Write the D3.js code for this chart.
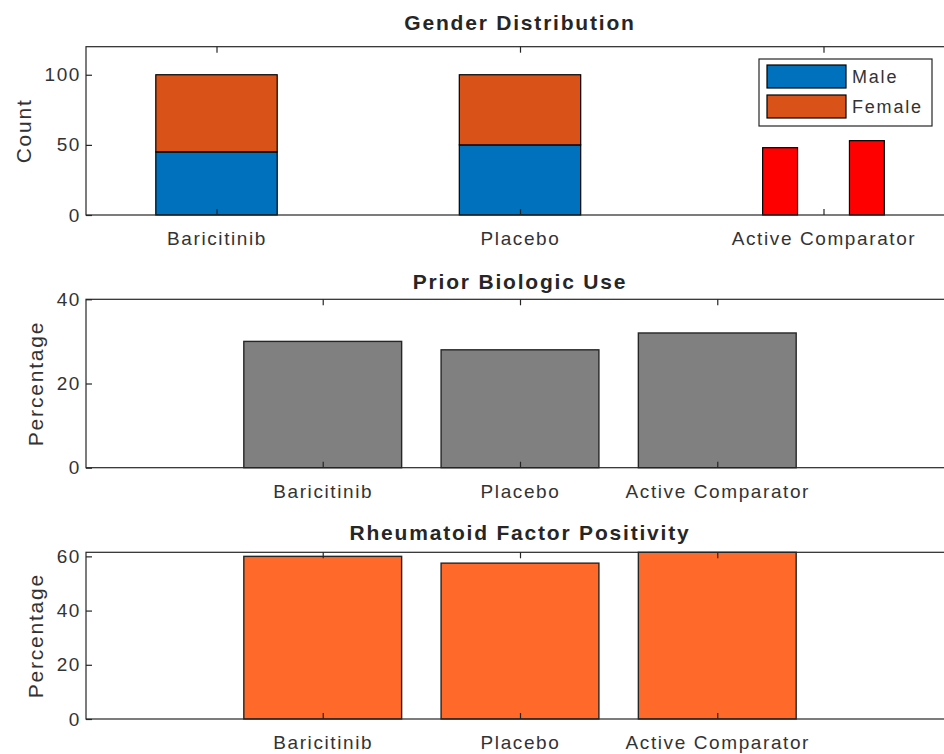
<!DOCTYPE html>
<html>
<head>
<meta charset="utf-8">
<script src="https://d3js.org/d3.v7.min.js"></script>
<style>
  body { margin: 0; background: #fff; }
  text { font-family: "Liberation Sans", Arial, sans-serif; fill: #262626; }
  .tick text { font-size: 19px; letter-spacing: 1.6px; fill: #333; }
  .tick line { stroke: #262626; stroke-width: 1.2; }
  .title { font-size: 21px; font-weight: bold; letter-spacing: 1.8px; }
  .ylabel { font-size: 21px; letter-spacing: 1.8px; fill: #333; }
  .legend text { font-size: 18px; letter-spacing: 1.8px; fill: #333; }
</style>
</head>
<body>
<script>
// data
const categories = ["Baricitinib", "Placebo", "Active Comparator"];
const genderKeys = ["Male", "Female"];
const maleCounts = [45, 50];           // Baricitinib, Placebo
const femaleCounts = [55, 50];
const comparatorCounts = [48, 53];     // the two red bars at Active Comparator
const priorBiologic = [30, 28, 32];
const rfPositive = [60, 57.5, 61.5];

const genderColors = ["#0072BD", "#D95319"];

const svg = d3.select("body").append("svg")
    .attr("width", 944)
    .attr("height", 754);

const left = 86, right = 954;

// sets up one subplot: scales + group
function panel(top, bottom, xDomain, yDomain) {
    const x = d3.scaleLinear().domain(xDomain).range([left, right]);
    const y = d3.scaleLinear().domain(yDomain).range([bottom, top]);
    const g = svg.append("g");
    return { top, bottom, x, y, g };
}

// box, ticks, labels and title (drawn after the bars so ticks sit on top)
function axes(p, yTicks, title, titleY, ylabel, ylabelX) {
    const g = p.g;
    g.append("rect")
        .attr("x", left).attr("y", p.top)
        .attr("width", right - left).attr("height", p.bottom - p.top)
        .attr("fill", "none").attr("stroke", "#262626").attr("stroke-width", 1.2);

    const xb = g.append("g")
        .attr("transform", `translate(0,${p.bottom})`)
        .call(d3.axisBottom(p.x).tickValues([1, 2, 3])
            .tickFormat(i => categories[i - 1]).tickSizeInner(-6).tickSizeOuter(0));
    xb.select(".domain").remove();
    xb.selectAll("text").attr("y", 30).attr("dy", 0);

    const xt = g.append("g")
        .attr("transform", `translate(0,${p.top})`)
        .call(d3.axisTop(p.x).tickValues([1, 2, 3]).tickFormat("").tickSizeInner(-6).tickSizeOuter(0));
    xt.select(".domain").remove();

    const yl = g.append("g")
        .attr("transform", `translate(${left},0)`)
        .call(d3.axisLeft(p.y).tickValues(yTicks).tickSizeInner(-6).tickSizeOuter(0).tickPadding(5));
    yl.select(".domain").remove();

    g.append("text")
        .attr("class", "title")
        .attr("x", (left + right) / 2).attr("y", titleY)
        .attr("text-anchor", "middle")
        .text(title);

    g.append("text")
        .attr("class", "ylabel")
        .attr("transform", `translate(${ylabelX},${(p.top + p.bottom) / 2}) rotate(-90)`)
        .attr("text-anchor", "middle")
        .attr("dominant-baseline", "central")
        .text(ylabel);
}

// ---- Gender Distribution ----
const p1 = panel(46.7, 215, [0.57, 3.43], [0, 120]);
const stacked = maleCounts.map((m, i) => ({ pos: i + 1, vals: [m, femaleCounts[i]] }));
stacked.forEach(d => {
    let base = 0;
    d.vals.forEach((v, k) => {
        p1.g.append("rect")
            .attr("x", p1.x(d.pos - 0.2))
            .attr("width", p1.x(d.pos + 0.2) - p1.x(d.pos - 0.2))
            .attr("y", p1.y(base + v))
            .attr("height", p1.y(base) - p1.y(base + v))
            .attr("fill", genderColors[k])
            .attr("stroke", "#000").attr("stroke-width", 1.2);
        base += v;
    });
});
p1.g.selectAll(".cmp")
    .data(comparatorCounts)
    .join("rect")
    .attr("class", "cmp")
    .attr("x", (d, j) => p1.x(3 + (j === 0 ? -0.143 : 0.143) - 0.0575))
    .attr("width", p1.x(0.115) - p1.x(0))
    .attr("y", d => p1.y(d))
    .attr("height", d => p1.y(0) - p1.y(d))
    .attr("fill", "#FF0000")
    .attr("stroke", "#000").attr("stroke-width", 1.2);
axes(p1, [0, 50, 100], "Gender Distribution", 30, "Count", 23);

// legend
const lg = p1.g.append("g").attr("class", "legend");
lg.append("rect")
    .attr("x", 759).attr("y", 59).attr("width", 173).attr("height", 67)
    .attr("fill", "#fff").attr("stroke", "#262626").attr("stroke-width", 1.2);
genderKeys.forEach((k, i) => {
    lg.append("rect")
        .attr("x", 767).attr("y", 65 + i * 30).attr("width", 79).attr("height", 23)
        .attr("fill", genderColors[i]).attr("stroke", "#000").attr("stroke-width", 1.2);
    lg.append("text")
        .attr("x", 852).attr("y", 76.5 + i * 30)
        .attr("dominant-baseline", "central")
        .text(k);
});

// ---- Prior Biologic Use ----
const p2 = panel(299.3, 467.7, [-0.2, 4.2], [0, 40]);
p2.g.selectAll(".bar")
    .data(priorBiologic)
    .join("rect")
    .attr("class", "bar")
    .attr("x", (d, i) => p2.x(i + 1 - 0.4))
    .attr("width", p2.x(0.8) - p2.x(0))
    .attr("y", d => p2.y(d))
    .attr("height", d => p2.y(0) - p2.y(d))
    .attr("fill", "#808080")
    .attr("stroke", "#262626").attr("stroke-width", 1.4);
axes(p2, [0, 20, 40], "Prior Biologic Use", 289, "Percentage", 35);

// ---- Rheumatoid Factor Positivity ----
const p3 = panel(552.3, 719, [-0.2, 4.2], [0, 61.5]);
p3.g.selectAll(".bar")
    .data(rfPositive)
    .join("rect")
    .attr("class", "bar")
    .attr("x", (d, i) => p3.x(i + 1 - 0.4))
    .attr("width", p3.x(0.8) - p3.x(0))
    .attr("y", d => p3.y(d))
    .attr("height", d => p3.y(0) - p3.y(d))
    .attr("fill", "#FF6929")
    .attr("stroke", "#262626").attr("stroke-width", 1.4);
axes(p3, [0, 20, 40, 60], "Rheumatoid Factor Positivity", 540, "Percentage", 35);
</script>
</body>
</html>
